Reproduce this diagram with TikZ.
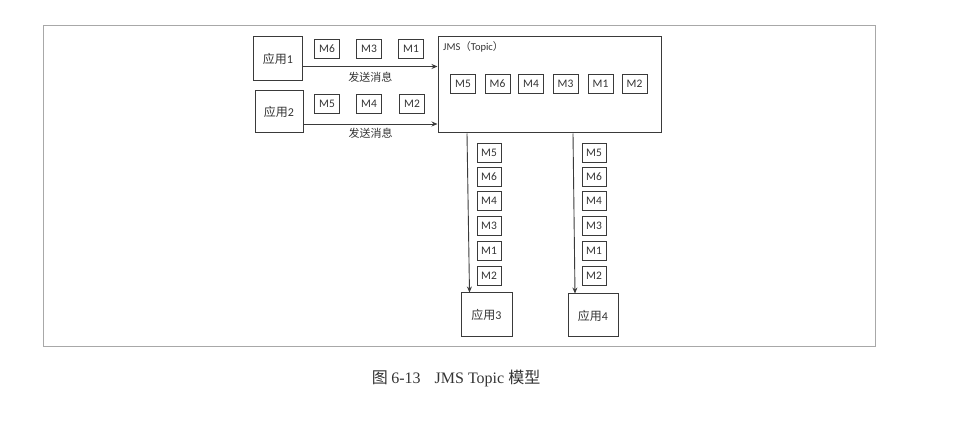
\documentclass[tikz,border=0pt]{standalone}
\usepackage{fontspec}
\setmainfont{Carlito}
\newfontfamily\cjk{Noto Sans CJK SC}
\newfontfamily\capserif{Liberation Serif}
\usetikzlibrary{arrows.meta}
\definecolor{boxline}{HTML}{3A3A3A}
\definecolor{frameline}{HTML}{A8A8A8}
\begin{document}
\begin{tikzpicture}[x=1pt,y=-1pt,
  msg/.style={draw=boxline,line width=0.9pt,minimum width=25pt,minimum height=19pt,inner sep=0pt,font=\fontsize{11.5}{13}\selectfont,text=black!80},
  app/.style={draw=boxline,line width=1pt,inner sep=0pt,font=\fontsize{12}{14}\selectfont,text=black!80},
  flow/.style={draw=boxline,line width=0.9pt,-{Stealth[length=6pt,width=5pt]}},
  lbl/.style={font=\cjk\fontsize{11}{12}\selectfont,text=black!80,inner sep=0pt}]
\useasboundingbox (0,0) rectangle (967,438);
\draw[frameline,line width=1pt] (43.5,25.5) rectangle (875,347);
% apps
\node[app,minimum width=49pt,minimum height=44pt] (a1) at (278,59) {{\cjk 应用}1};
\node[app,minimum width=48pt,minimum height=42pt] (a2) at (279,112) {{\cjk 应用}2};
\node[app,minimum width=223pt,minimum height=96pt] (jms) at (549.5,85) {};
\node[font=\fontsize{10.5}{12}\selectfont,text=black!80,anchor=west,inner sep=0pt] (jt) at (443,47) {JMS{\cjk （}Topic{\cjk ）}};
\node[app,minimum width=51pt,minimum height=44pt] (a3) at (486.5,315) {{\cjk 应用}3};
\node[app,minimum width=50pt,minimum height=43pt] (a4) at (593,315.5) {{\cjk 应用}4};
% row messages
\node[msg] (r1a) at (327,49) {M6};
\node[msg] (r1b) at (369,49) {M3};
\node[msg] (r1c) at (411,49) {M1};
\node[msg] (r2a) at (327,104) {M5};
\node[msg] (r2b) at (369,104) {M4};
\node[msg] (r2c) at (412,104) {M2};
% jms messages
\node[msg] (j1) at (463,83.5) {M5};
\node[msg] (j2) at (497.5,83.5) {M6};
\node[msg] (j3) at (531,83.5) {M4};
\node[msg] (j4) at (565.5,83.5) {M3};
\node[msg] (j5) at (600.5,83.5) {M1};
\node[msg] (j6) at (634.5,83.5) {M2};
% column messages
\foreach \n/\t/\yy in {1/M5/153,2/M6/177,3/M4/201,4/M3/226,5/M1/251,6/M2/276}{
  \node[msg,minimum width=24pt] (c\n) at (489,\yy) {\t};
  \node[msg,minimum width=24pt] (d\n) at (594,\yy) {\t};
}
% arrows
\draw[flow] (a1.east |- 0,66.5) -- (jms.west |- 0,66.5) node[lbl,midway,below=5pt] (l1) {发送消息};
\draw[flow] (a2.east |- 0,124) -- (jms.west |- 0,124) node[lbl,midway,below=4pt] (l2) {发送消息};
\draw[flow] (jms.south -| 467,0) -- (a3.north -| 469.5,0);
\draw[flow] (jms.south -| 573,0) -- (a4.north -| 575,0);
% caption
\node[font=\fontsize{16}{18}\selectfont,text=black!80] (cap) at (456,378) {{\cjk 图} \capserif 6-13\hspace{14pt}JMS Topic {\cjk 模型}};
\end{tikzpicture}
\end{document}
